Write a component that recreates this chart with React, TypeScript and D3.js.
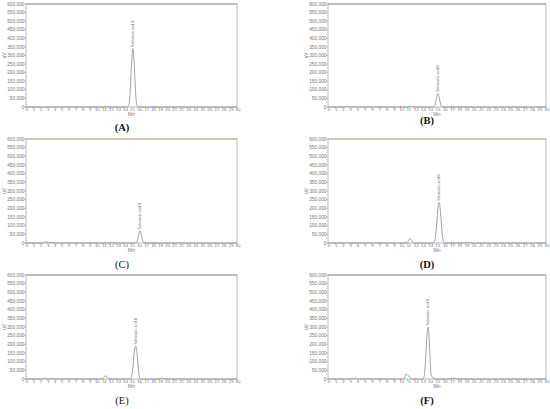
import React from "react";
import * as d3 from "d3";

const yTicks = [0, 50000, 100000, 150000, 200000, 250000, 300000, 350000, 400000, 450000, 500000, 550000, 600000];
const xTicks = d3.range(0, 31);
const panelLetters = ["A", "B", "C", "D", "E", "F"];
const peakName = "Salvianolic acid B";

const timesA = [0, 10.8, 11.2, 11.6, 14.4, 14.6, 14.8, 15.0, 15.2, 15.4, 15.6, 15.8, 16.0, 30];
const valuesA = [0, 0, 1500, 0, 0, 8000, 80000, 250000, 340000, 240000, 70000, 8000, 0, 0];

const timesB = [0, 2.3, 2.7, 3.1, 3.4, 3.7, 4.0, 10.9, 11.3, 11.7, 14.4, 14.6, 14.8, 15.0, 15.1, 15.3, 15.5, 15.7, 15.9, 30];
const valuesB = [0, 0, 4000, 0, 0, 2000, 0, 0, 5000, 0, 0, 3000, 25000, 65000, 80000, 55000, 15000, 2000, 0, 0];

const timesC = [0, 2.4, 2.8, 3.2, 3.6, 4.0, 8.7, 9.0, 9.3, 11.9, 12.2, 12.5, 15.5, 15.7, 15.9, 16.1, 16.2, 16.4, 16.6, 16.8, 17.0, 30];
const valuesC = [0, 0, 8000, 1000, 4000, 0, 0, 1000, 0, 0, 3000, 0, 0, 3000, 25000, 62000, 70000, 48000, 12000, 2000, 0, 0];

const timesD = [0, 2.4, 2.7, 3.0, 10.8, 11.3, 11.8, 14.5, 14.7, 14.9, 15.1, 15.3, 15.5, 15.7, 15.9, 16.1, 18.8, 19.2, 19.6, 30];
const valuesD = [0, 0, 3000, 0, 0, 25000, 0, 0, 15000, 80000, 190000, 235000, 170000, 60000, 8000, 0, 0, 3000, 0, 0];

const timesE = [0, 2.4, 2.7, 3.0, 3.4, 3.7, 4.0, 10.8, 11.3, 11.8, 14.8, 15.0, 15.2, 15.4, 15.6, 15.8, 16.0, 16.2, 16.4, 18.9, 19.3, 19.7, 30];
const valuesE = [0, 0, 6000, 0, 0, 3000, 0, 0, 18000, 0, 0, 12000, 65000, 160000, 190000, 140000, 45000, 6000, 0, 0, 5000, 0, 0];

const timesF = [0, 2.9, 3.2, 3.5, 3.8, 4.1, 5.2, 5.5, 5.8, 10.4, 10.8, 11.2, 11.6, 13.0, 13.2, 13.4, 13.6, 13.8, 14.0, 14.2, 14.4, 14.7, 16.9, 17.3, 17.7, 30];
const valuesF = [0, 0, 4000, 0, 7000, 0, 0, 2000, 0, 0, 28000, 12000, 0, 0, 10000, 90000, 240000, 300000, 160000, 25000, 10000, 0, 0, 4000, 0, 0];

const peakTimes = [15.2, 15.1, 16.2, 15.3, 15.6, 13.8];
const peakValues = [340000, 80000, 70000, 235000, 190000, 300000];

const seriesTimes = [timesA, timesB, timesC, timesD, timesE, timesF];
const seriesValues = [valuesA, valuesB, valuesC, valuesD, valuesE, valuesF];

const colX = [[26, 237], [328, 546]];
const rowY = [[4, 107], [139, 243], [275, 379]];
const labelPos = [
  [122, 131], [427, 124],
  [122, 268], [427, 268],
  [122, 404], [427, 404],
];
const boldLabel = [true, true, false, true, false, true];
const topColor = ["#9a9a9a", "#9a9a9a", "#b5b57a", "#b5b57a", "#9a9a9a", "#9a9a9a"];

function Panel({ i }: { i: number }) {
  const col = i % 2;
  const row = Math.floor(i / 2);
  const [x0, x1] = colX[col];
  const [y0, y1] = rowY[row];
  const x = d3.scaleLinear().domain([0, 30]).range([x0, x1]);
  const y = d3.scaleLinear().domain([0, 600000]).range([y1, y0]);
  const pts: [number, number][] = seriesTimes[i].map((t, k) => [t, seriesValues[i][k]]);
  const line = d3
    .line<[number, number]>()
    .x((d) => x(d[0]))
    .y((d) => y(d[1]))
    .curve(d3.curveMonotoneX);
  const fmt = d3.format(",");
  const px = x(peakTimes[i]);
  const py = y(peakValues[i]);
  return (
    <g>
      <rect x={x0} y={y0} width={x1 - x0} height={y1 - y0} fill="none" stroke="#a8a8a8" strokeWidth={0.8} />
      <line x1={x0} x2={x1} y1={y0} y2={y0} stroke={topColor[i]} strokeWidth={1} />
      {yTicks.map((t) => (
        <g key={t}>
          <line x1={x0 - 2} x2={x0} y1={y(t)} y2={y(t)} stroke="#999" strokeWidth={0.5} />
          <text x={x0 - 1.5} y={y(t) + 1.6} fontSize={4.8} fill="#777" textAnchor="end" fontFamily="Liberation Sans, Arial, sans-serif">
            {fmt(t)}
          </text>
        </g>
      ))}
      {xTicks.map((t) => (
        <g key={t}>
          <line x1={x(t)} x2={x(t)} y1={y1} y2={y1 + 1.5} stroke="#999" strokeWidth={0.5} />
          <text x={x(t) + 1} y={y1 + 4.2} fontSize={4.3} fill="#777" textAnchor="middle" fontFamily="Liberation Sans, Arial, sans-serif">
            {t}
          </text>
        </g>
      ))}
      <text x={(x0 + x1) / 2} y={y1 + 9} fontSize={4.5} fill="#777" textAnchor="middle" fontFamily="Liberation Sans, Arial, sans-serif">
        Min
      </text>
      <text
        transform={`translate(${x0 - 20},${(y0 + y1) / 2}) rotate(-90)`}
        fontSize={4.5}
        fill="#777"
        textAnchor="middle"
        fontFamily="Liberation Sans, Arial, sans-serif"
      >
        uV
      </text>
      <path d={line(pts) || ""} fill="none" stroke="#8a8a8a" strokeWidth={0.8} />
      <text
        transform={`translate(${px + 1.2},${py - 1.5}) rotate(-90)`}
        fontSize={3.4}
        fill="#666"
        textAnchor="start"
        fontFamily="Liberation Sans, Arial, sans-serif"
      >
        {peakName}
      </text>
      <text
        x={labelPos[i][0]}
        y={labelPos[i][1]}
        fontSize={10.5}
        fontWeight={boldLabel[i] ? "bold" : "normal"}
        textAnchor="middle"
        fill="#111"
        fontFamily="Liberation Serif, Times New Roman, serif"
      >
        ({panelLetters[i]})
      </text>
    </g>
  );
}

export default function App() {
  return (
    <svg width={550} height={409} style={{ position: "absolute", left: 0, top: 0, background: "#fff" }}>
      <rect width={550} height={409} fill="#fff" />
      {panelLetters.map((_, i) => (
        <Panel key={i} i={i} />
      ))}
    </svg>
  );
}
